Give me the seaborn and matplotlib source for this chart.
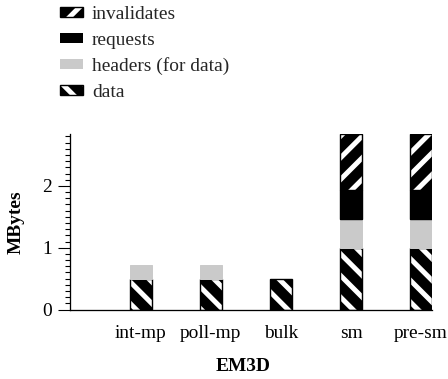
import matplotlib
matplotlib.use("Agg")
import matplotlib.pyplot as plt
from matplotlib.patches import Patch
from matplotlib.legend_handler import HandlerTuple
from matplotlib.ticker import MultipleLocator
import numpy as np
import seaborn as sns

categories = ["int-mp", "poll-mp", "bulk", "sm", "pre-sm"]
data = [0.50, 0.50, 0.50, 1.00, 1.00]
headers = [0.22, 0.22, 0.00, 0.47, 0.47]
requests = [0.00, 0.00, 0.00, 0.47, 0.47]
invalidates = [0.00, 0.00, 0.00, 0.90, 0.90]
layer_labels = ["data", "headers (for data)", "requests", "invalidates"]
yticks = [0, 1, 2]
xlabel = "EM3D"
ylabel = "MBytes"

DPI = 130
W, H = 448, 379


def pt(px):
    return px * 72.0 / DPI


FS = pt(19.4)
HLW = pt(5.0)

sns.set_theme(style="ticks")
plt.rcParams["font.family"] = ["Liberation Serif", "DejaVu Serif"]
plt.rcParams["hatch.linewidth"] = HLW
plt.rcParams["ytick.major.size"] = pt(12)
plt.rcParams["ytick.minor.size"] = pt(5)
plt.rcParams["ytick.major.width"] = pt(1.1)
plt.rcParams["ytick.minor.width"] = pt(1.1)
plt.rcParams["ytick.major.pad"] = pt(6)
plt.rcParams["xtick.major.size"] = 0
plt.rcParams["xtick.major.pad"] = pt(16)

fig = plt.figure(figsize=(W / DPI, H / DPI), dpi=DPI)
ax = fig.add_axes([70 / W, 1 - 309.5 / H, 362 / W, 175.5 / H])

BW = 0.31
GRAY = "#cacaca"
styles = [
    dict(face="black", edge="white", hatch="\\\\", outline=True),
    dict(face=GRAY, edge=GRAY, hatch=None, outline=False),
    dict(face="black", edge="black", hatch=None, outline=True),
    dict(face="black", edge="white", hatch="//", outline=True),
]
layers = [data, headers, requests, invalidates]
bottom = np.zeros(len(categories))
for vals, st in zip(layers, styles):
    vals = np.asarray(vals, dtype=float)
    lw_fill = 0.0 if st["hatch"] else [pt(1.0) if v > 0 else 0 for v in vals]
    sns.barplot(x=categories, y=vals, bottom=bottom, color=st["face"],
                edgecolor=st["edge"], hatch=st["hatch"], linewidth=lw_fill,
                width=BW, saturation=1, ax=ax, errorbar=None)
    if st["outline"]:
        sns.barplot(x=categories, y=vals, bottom=bottom, color="black",
                    fill=False, edgecolor="black",
                    linewidth=[pt(1.4) if v > 0 else 0 for v in vals],
                    width=BW, ax=ax, errorbar=None)
    bottom = bottom + vals

for p in ax.patches:
    if hasattr(p, "set_hatch_linewidth"):
        p.set_hatch_linewidth(HLW)

ax.set_xlim(-1.01, len(categories) - 1 + BW / 2)
ax.set_ylim(0, bottom.max())
ax.set_yticks(yticks)
ax.yaxis.set_minor_locator(MultipleLocator(0.1))
sns.despine(ax=ax, top=True, right=True)
for s in ["left", "bottom"]:
    ax.spines[s].set_color("black")
    ax.spines[s].set_linewidth(pt(1.3))
ax.tick_params(axis="y", which="major", length=pt(12), width=pt(1.1),
               direction="out", pad=pt(6), labelsize=FS, colors="black")
ax.tick_params(axis="y", which="minor", length=pt(5), width=pt(1.1),
               direction="out", colors="black")
ax.tick_params(axis="x", which="both", length=0, pad=pt(16), labelsize=FS,
               colors="black")

ax.set_xlabel(xlabel, fontsize=FS, fontweight="bold", color="black")
ax.set_ylabel(ylabel, fontsize=FS, fontweight="bold", color="black")
ax.xaxis.set_label_coords(0.478, -0.275)
ax.yaxis.set_label_coords(-0.125, 0.5)

# legend (reverse stacking order)
handles = []
for st in styles:
    if st["hatch"]:
        hp = Patch(facecolor=st["face"], edgecolor=st["edge"], hatch=st["hatch"], linewidth=0)
        if hasattr(hp, "set_hatch_linewidth"):
            hp.set_hatch_linewidth(HLW)
        h = (hp, Patch(facecolor="none", edgecolor="black", linewidth=pt(1.4)))
    else:
        h = Patch(facecolor=st["face"], edgecolor=st["edge"], linewidth=0)
    handles.append(h)
leg = fig.legend(handles[::-1], layer_labels[::-1], loc="upper left",
                 bbox_to_anchor=(60 / W, 1 - 6 / H), frameon=False,
                 borderpad=0, borderaxespad=0, handlelength=1.18,
                 handleheight=0.41, handletextpad=0.46, labelspacing=0.44,
                 fontsize=FS, handler_map={tuple: HandlerTuple(ndivide=1)})

fig.savefig("out.png", dpi=DPI)
